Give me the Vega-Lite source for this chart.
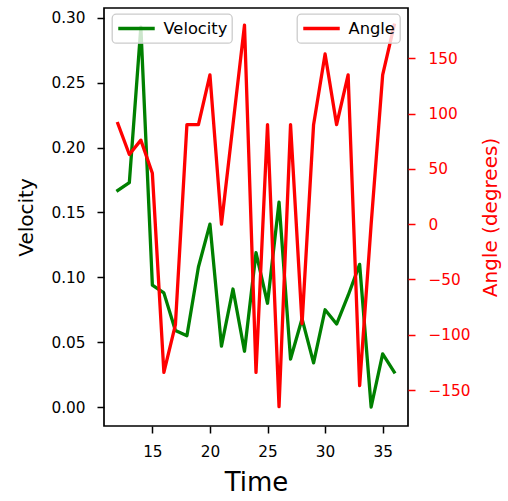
{
  "$schema": "https://vega.github.io/schema/vega-lite/v6.json",
  "width": 304,
  "height": 418,
  "autosize": {"type": "none"},
  "padding": {"left": 104, "top": 8, "right": 96, "bottom": 75},
  "background": "white",
  "config": {
    "font": "DejaVu Sans",
    "view": {"stroke": "black", "strokeWidth": 1.7},
    "axis": {
      "grid": false,
      "domain": false,
      "tickSize": 7,
      "tickWidth": 1.5,
      "labelFontSize": 15.3,
      "labelFont": "DejaVu Sans",
      "titleFont": "DejaVu Sans",
      "titleFontWeight": "normal"
    },
    "legend": {
      "orient": "none",
      "title": null,
      "symbolType": "stroke",
      "symbolStrokeWidth": 3.3,
      "symbolSize": 1330,
      "labelFontSize": 16.3,
      "labelFont": "DejaVu Sans",
      "labelColor": "black",
      "labelOffset": 7,
      "padding": 4.5,
      "fillColor": "rgba(255,255,255,0.8)",
      "strokeColor": "#cccccc",
      "strokeWidth": 1.3,
      "cornerRadius": 4,
      "clipHeight": 20
    }
  },
  "data": {
    "values": [
      {"t": 12, "velocity": 0.167, "angle": 91},
      {"t": 13, "velocity": 0.173, "angle": 63},
      {"t": 14, "velocity": 0.293, "angle": 76},
      {"t": 15, "velocity": 0.094, "angle": 46},
      {"t": 16, "velocity": 0.088, "angle": -134},
      {"t": 17, "velocity": 0.059, "angle": -91},
      {"t": 18, "velocity": 0.055, "angle": 90},
      {"t": 19, "velocity": 0.108, "angle": 90},
      {"t": 20, "velocity": 0.141, "angle": 135},
      {"t": 21, "velocity": 0.047, "angle": 0},
      {"t": 22, "velocity": 0.091, "angle": 90},
      {"t": 23, "velocity": 0.043, "angle": 180},
      {"t": 24, "velocity": 0.119, "angle": -134},
      {"t": 25, "velocity": 0.080, "angle": 90},
      {"t": 26, "velocity": 0.158, "angle": -165},
      {"t": 27, "velocity": 0.037, "angle": 90},
      {"t": 28, "velocity": 0.068, "angle": -90},
      {"t": 29, "velocity": 0.034, "angle": 90},
      {"t": 30, "velocity": 0.075, "angle": 154},
      {"t": 31, "velocity": 0.064, "angle": 90},
      {"t": 32, "velocity": 0.086, "angle": 135},
      {"t": 33, "velocity": 0.110, "angle": -146},
      {"t": 34, "velocity": 0.000, "angle": 0},
      {"t": 35, "velocity": 0.041, "angle": 135},
      {"t": 36, "velocity": 0.027, "angle": 180}
    ]
  },
  "layer": [
    {
      "mark": {"type": "line", "strokeWidth": 3.3, "strokeJoin": "round", "strokeCap": "square"},
      "encoding": {
        "x": {
          "field": "t", "type": "quantitative",
          "scale": {"domain": [10.8, 37.2], "nice": false, "zero": false},
          "axis": {"values": [15, 20, 25, 30, 35], "title": "Time", "titleFontSize": 26, "titlePadding": 10, "labelPadding": 11, "tickColor": "black", "labelColor": "black", "titleColor": "black"}
        },
        "y": {
          "field": "velocity", "type": "quantitative",
          "scale": {"domain": [-0.01465, 0.3077], "nice": false, "zero": false},
          "axis": {"values": [0, 0.05, 0.1, 0.15, 0.2, 0.25, 0.3], "format": ".2f", "title": "Velocity", "titleFontSize": 20, "titlePadding": 14, "labelPadding": 12, "tickColor": "black", "labelColor": "black", "titleColor": "black"}
        },
        "color": {
          "datum": "Velocity",
          "scale": {"domain": ["Velocity"], "range": ["green"]},
          "legend": {"legendX": 8, "legendY": 6}
        }
      }
    },
    {
      "mark": {"type": "line", "strokeWidth": 3.3, "strokeJoin": "round", "strokeCap": "square"},
      "encoding": {
        "x": {"field": "t", "type": "quantitative"},
        "y": {
          "field": "angle", "type": "quantitative",
          "scale": {"domain": [-182.5, 195.5], "nice": false, "zero": false},
          "axis": {"orient": "right", "values": [-150, -100, -50, 0, 50, 100, 150], "title": "Angle (degrees)", "titleFontSize": 20, "titleAngle": 270, "titlePadding": 30, "labelPadding": 13, "tickColor": "red", "labelColor": "red", "titleColor": "red"}
        },
        "color": {
          "datum": "Angle",
          "scale": {"domain": ["Angle"], "range": ["red"]},
          "legend": {"legendX": 193, "legendY": 6}
        }
      }
    }
  ],
  "resolve": {"scale": {"y": "independent", "color": "independent"}, "legend": {"color": "independent"}}
}
